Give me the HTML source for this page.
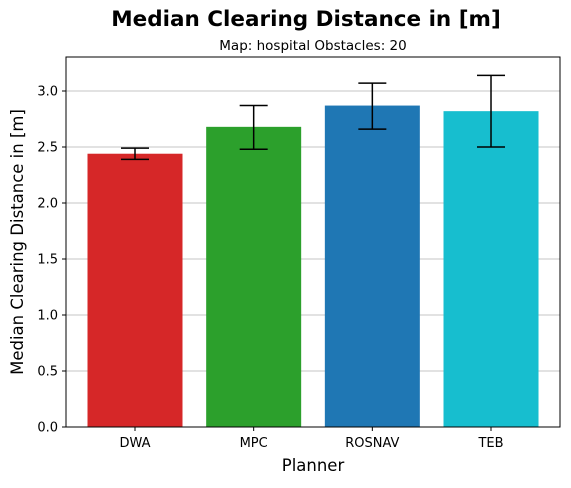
<!DOCTYPE html>
<html><head><meta charset="utf-8"><style>
body{margin:0;background:#fff;font-family:"DejaVu Sans",sans-serif}
</style></head><body>
<svg width="571" height="484" font-family="DejaVu Sans, Liberation Sans, sans-serif">
<text x="306" y="26" text-anchor="middle" font-size="21.5" font-weight="bold">Median Clearing Distance in [m]</text>
<text x="313" y="50" text-anchor="middle" font-size="13.5">Map: hospital Obstacles: 20</text>
<g id="grid"></g>
<g id="bars"></g>
<g id="err"></g>
<rect x="66" y="57" width="494" height="370" fill="none" stroke="#000" stroke-width="1"/>
<g id="yt"></g>
<g id="xt"></g>
<text x="313" y="471" text-anchor="middle" font-size="16.5">Planner</text>
<text transform="translate(23,242) rotate(-90)" text-anchor="middle" font-size="16.5">Median Clearing Distance in [m]</text>
</svg>
<script>
const categories=["DWA","MPC","ROSNAV","TEB"];
const values=[2.44,2.68,2.87,2.82];
const errLow=[2.39,2.48,2.66,2.50];
const errHigh=[2.49,2.87,3.07,3.14];
const colors=["#d62728","#2ca02c","#1f77b4","#17becf"];
const yTicks=[0,0.5,1,1.5,2,2.5,3];
const NS="http://www.w3.org/2000/svg";
const y=v=>427-v*112;
const x=i=>135+i*118.67;
function mk(t,a,p){const e=document.createElementNS(NS,t);for(const k in a)e.setAttribute(k,a[k]);p.appendChild(e);return e;}
const g=document.getElementById('grid'),b=document.getElementById('bars'),er=document.getElementById('err'),yt=document.getElementById('yt'),xt=document.getElementById('xt');
yTicks.forEach(v=>{
 const l=mk('line',{x1:66,x2:560,y1:y(v),y2:y(v),stroke:'#b0b0b0','stroke-width':0.8},g);
 
 
 mk('line',{x1:62,x2:66,y1:y(v),y2:y(v),stroke:'#000'},yt);
 const t=mk('text',{x:58,y:y(v)+4.5,'text-anchor':'end','font-size':13},yt);
 t.textContent=v.toFixed(1);
 
 
});
categories.forEach((c,i)=>{
 const r=mk('rect',{x:x(i)-47.5,y:y(values[i]),width:95,height:y(0)-y(values[i]),fill:colors[i]},b);
 
 
 const e=mk('g',{},er);
 
 
 mk('line',{x1:x(i),x2:x(i),y1:y(errLow[i]),y2:y(errHigh[i]),stroke:'#000','stroke-width':1.5},e);
 mk('line',{x1:x(i)-14,x2:x(i)+14,y1:y(errLow[i]),y2:y(errLow[i]),stroke:'#000','stroke-width':1.5},e);
 mk('line',{x1:x(i)-14,x2:x(i)+14,y1:y(errHigh[i]),y2:y(errHigh[i]),stroke:'#000','stroke-width':1.5},e);
 mk('line',{x1:x(i),x2:x(i),y1:427,y2:431,stroke:'#000'},xt);
 const t=mk('text',{x:x(i),y:447,'text-anchor':'middle','font-size':13},xt);
 t.textContent=c;
 
 
});
</script>
</body></html>
